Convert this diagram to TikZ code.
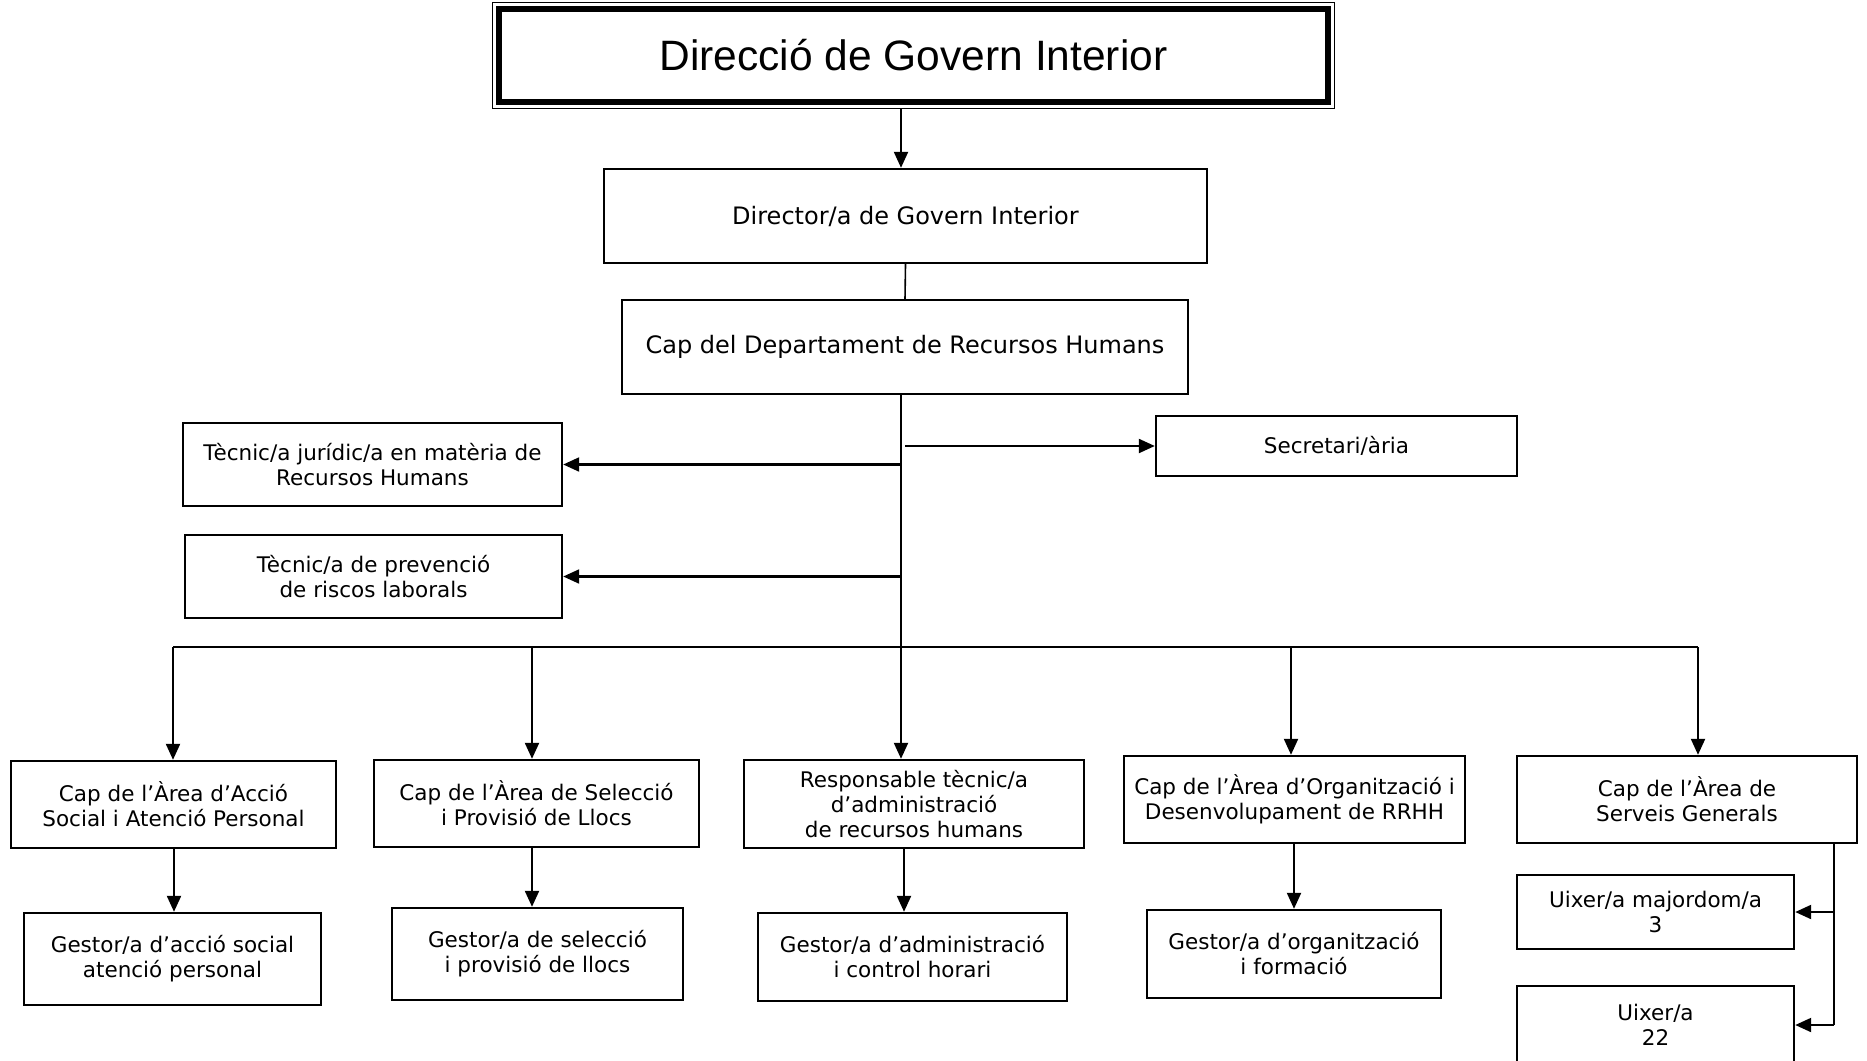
\documentclass[tikz,border=0pt]{standalone}
\usepackage{fontspec}
\setmainfont{DejaVu Sans}
\newfontfamily\titlefont{Liberation Sans}
\usetikzlibrary{arrows.meta,calc}
\tikzset{
  box/.style={draw, line width=1.2pt, rectangle, inner sep=0pt, align=center,
    font=\fontsize{10.75pt}{12.5pt}\selectfont},
  bigbox/.style={box, font=\fontsize{12pt}{14pt}\selectfont},
  arr/.style={line width=1.1pt, -{Triangle[length=8pt,width=7pt]}},
  ln/.style={line width=0.9pt},
}
\begin{document}
\begin{tikzpicture}[x=0.5pt,y=-0.5pt]
\useasboundingbox (0,0) rectangle (1867,1060);
\clip (0,0) rectangle (1867,1060);

% top title box
\node[box, line width=2.6pt, minimum width=414.5pt, minimum height=46.5pt,
  font=\titlefont\fontsize{21.25pt}{24pt}\selectfont] (top) at (913.5,55.5) {Direcció de Govern Interior};
\draw[line width=0.7pt] ($(top.north west)+(-4,-4)$) rectangle ($(top.south east)+(4,4)$);

\node[bigbox, minimum width=301.5pt, minimum height=47pt] (dir) at (905.5,216) {Director/a de Govern Interior};
\node[bigbox, minimum width=283pt, minimum height=47pt] (cap) at (905,347) {Cap del Departament de Recursos Humans};

\node[box, minimum width=189.5pt, minimum height=41.5pt] (tj) at (372.5,464.5) {Tècnic/a jurídic/a en matèria de\\Recursos Humans};
\node[box, minimum width=188.5pt, minimum height=41.5pt] (tp) at (373.5,576.5) {Tècnic/a de prevenció\\de riscos laborals};
\node[box, minimum width=180.5pt, minimum height=30pt] (sec) at (1336.5,446) {Secretari/ària};

\node[box, minimum width=162.5pt, minimum height=43.5pt] (b1) at (173.5,804.5) {Cap de l’Àrea d’Acció\\Social i Atenció Personal};
\node[box, minimum width=162.5pt, minimum height=43.5pt] (b2) at (536.5,803.5) {Cap de l’Àrea de Selecció\\i Provisió de Llocs};
\node[box, minimum width=170pt, minimum height=44pt] (b3) at (914,804) {Responsable tècnic/a\\d’administració\\de recursos humans};
\node[box, minimum width=170.5pt, minimum height=43.5pt] (b4) at (1294.5,799.5) {Cap de l’Àrea d’Organització i\\Desenvolupament de RRHH};
\node[box, minimum width=170pt, minimum height=43.5pt] (b5) at (1687,799.5) {Cap de l’Àrea de\\Serveis Generals};

\node[box, minimum width=148.5pt, minimum height=46pt] (g1) at (172.5,959) {Gestor/a d’acció social\\atenció personal};
\node[box, minimum width=145.5pt, minimum height=46pt] (g2) at (537.5,954) {Gestor/a de selecció\\i provisió de llocs};
\node[box, minimum width=154.5pt, minimum height=44pt] (g3) at (912.5,957) {Gestor/a d’administració\\i control horari};
\node[box, minimum width=147pt, minimum height=44pt] (g4) at (1294,954) {Gestor/a d’organització\\i formació};

\node[box, minimum width=138.5pt, minimum height=37pt] (u1) at (1655.5,912) {Uixer/a majordom/a\\3};
\node[box, minimum width=138.5pt, minimum height=39pt] (u2) at (1655.5,1025) {Uixer/a\\22};

% bus coordinates
\coordinate (j1) at (173,647);
\coordinate (j2) at (532,647);
\coordinate (j3) at (901,647);
\coordinate (j4) at (1291,647);
\coordinate (j5) at (1698,647);
\coordinate (k1) at (174,0);
\coordinate (sg) at (1834,0);

% connectors
\draw[arr] (top.south -| j3) ++(0,4) -- (dir.north -| j3);
\draw[line width=0.8pt] (dir.south) -- (cap.north);
\draw[ln] (cap.south -| j3) -- (j3);
\draw[ln] (j1) -- (j5);
\draw[arr] (tj.east -| j3) -- (tj.east);
\draw[arr] (tp.east -| j3) -- (tp.east);
\draw[arr] ($(sec.west -| j3)+(4,0)$) -- (sec.west);

\draw[arr] (j1) -- (j1 |- b1.north);
\draw[arr] (j2) -- (j2 |- b2.north);
\draw[arr] (j3) -- (j3 |- b3.north);
\draw[arr] (j4) -- (j4 |- b4.north);
\draw[arr] (j5) -- (j5 |- b5.north);

\draw[arr] (b1.south -| k1) -- (k1 |- g1.north);
\draw[arr] (b2.south -| j2) -- (j2 |- g2.north);
\draw[arr] ($(b3.south)+(-10,0)$) -- ($(b3.south |- g3.north)+(-10,0)$);
\draw[arr] (b4.south -| g4.north) -- (g4.north);

\draw[line width=1.1pt] (b5.south -| sg) -- (sg |- u2.east);
\draw[arr] (sg |- u1.east) -- (u1.east);
\draw[arr] (sg |- u2.east) -- (u2.east);
\end{tikzpicture}
\end{document}
